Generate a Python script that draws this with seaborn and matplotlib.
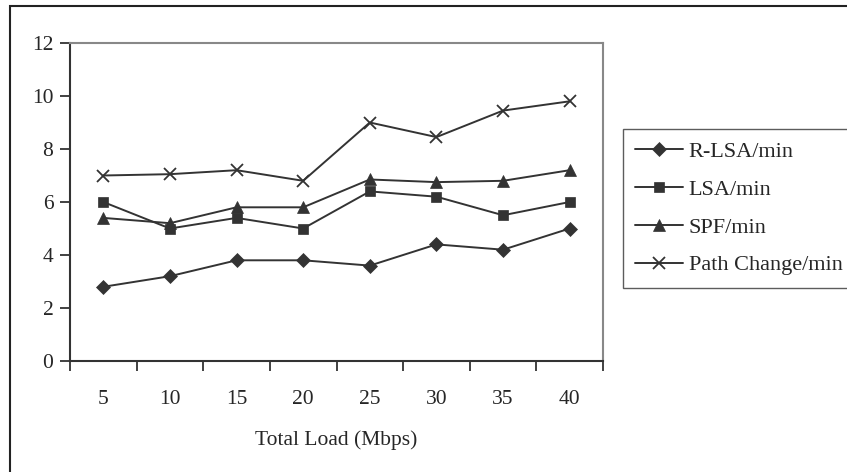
import numpy as np
import pandas as pd
import matplotlib
matplotlib.use('Agg')
import matplotlib.pyplot as plt
from matplotlib.patches import Rectangle
import seaborn as sns

loads = ['5', '10', '15', '20', '25', '30', '35', '40']
r_lsa = [2.8, 3.2, 3.8, 3.8, 3.6, 4.4, 4.2, 5.0]
lsa = [6.0, 5.0, 5.4, 5.0, 6.4, 6.2, 5.5, 6.0]
spf = [5.4, 5.2, 5.8, 5.8, 6.85, 6.75, 6.8, 7.2]
path_change = [7.0, 7.05, 7.2, 6.8, 9.0, 8.45, 9.45, 9.8]

series = {
    'R-LSA/min': (r_lsa, 'D', 7.5),
    'LSA/min': (lsa, 's', 7.5),
    'SPF/min': (spf, '^', 8.5),
    'Path Change/min': (path_change, 'x', 9),
}

sns.set_style('white')
plt.rcParams['font.family'] = ['Liberation Serif', 'DejaVu Serif']
fs = 15.5

fig = plt.figure(figsize=(8.47, 4.72), dpi=100)
ax = fig.add_axes([70 / 847, 1 - 361 / 472, 533 / 847, 318 / 472])

pos = np.arange(len(loads))
dark = '#333333'
for name, (vals, mk, ms) in series.items():
    df = pd.DataFrame({'x': pos, 'y': vals})
    sns.lineplot(data=df, x='x', y='y', ax=ax, color=dark, linewidth=1.4,
                 marker=mk, markersize=ms, markeredgecolor=dark,
                 markeredgewidth=1.3 if mk == 'x' else 0.5, label=name)

ax.set_xlim(-0.5, len(loads) - 0.5)
ax.set_ylim(0, 12)
ax.set_yticks(range(0, 13, 2))
ax.set_xticks(np.arange(-0.5, len(loads), 1.0))
ax.set_xticklabels([])
ax.set_xticks(pos, minor=True)
ax.set_xticklabels(loads, minor=True)
ax.tick_params(axis='x', which='major', direction='out', length=7, width=1.3,
               color=dark, bottom=True)
ax.tick_params(axis='x', which='minor', length=0, pad=21, labelsize=fs)
ax.tick_params(axis='y', direction='out', length=7, width=1.3, color=dark,
               left=True, pad=5, labelsize=fs)

for side in ['left', 'bottom']:
    ax.spines[side].set_color(dark)
    ax.spines[side].set_linewidth(1.5)
for side in ['top', 'right']:
    ax.spines[side].set_color('#888888')
    ax.spines[side].set_linewidth(1.5)

ax.set_xlabel('Total Load (Mbps)', fontsize=fs, labelpad=15)
ax.set_ylabel('')

leg = ax.legend(loc='upper left', bbox_to_anchor=(623 / 847, 1 - 129 / 472),
                bbox_transform=fig.transFigure, fancybox=False, frameon=True,
                handlelength=2.15, handletextpad=0.25, labelspacing=0.78,
                borderpad=0.55, borderaxespad=0, fontsize=16)
leg.get_frame().set_edgecolor(dark)
leg.get_frame().set_linewidth(1.0)

fig.patches.append(Rectangle((10 / 847, -0.1), 1.2, 1.1 - 6 / 472,
                             transform=fig.transFigure, fill=False,
                             edgecolor='#222222', linewidth=1.5))

fig.savefig('out.png', dpi=100)
